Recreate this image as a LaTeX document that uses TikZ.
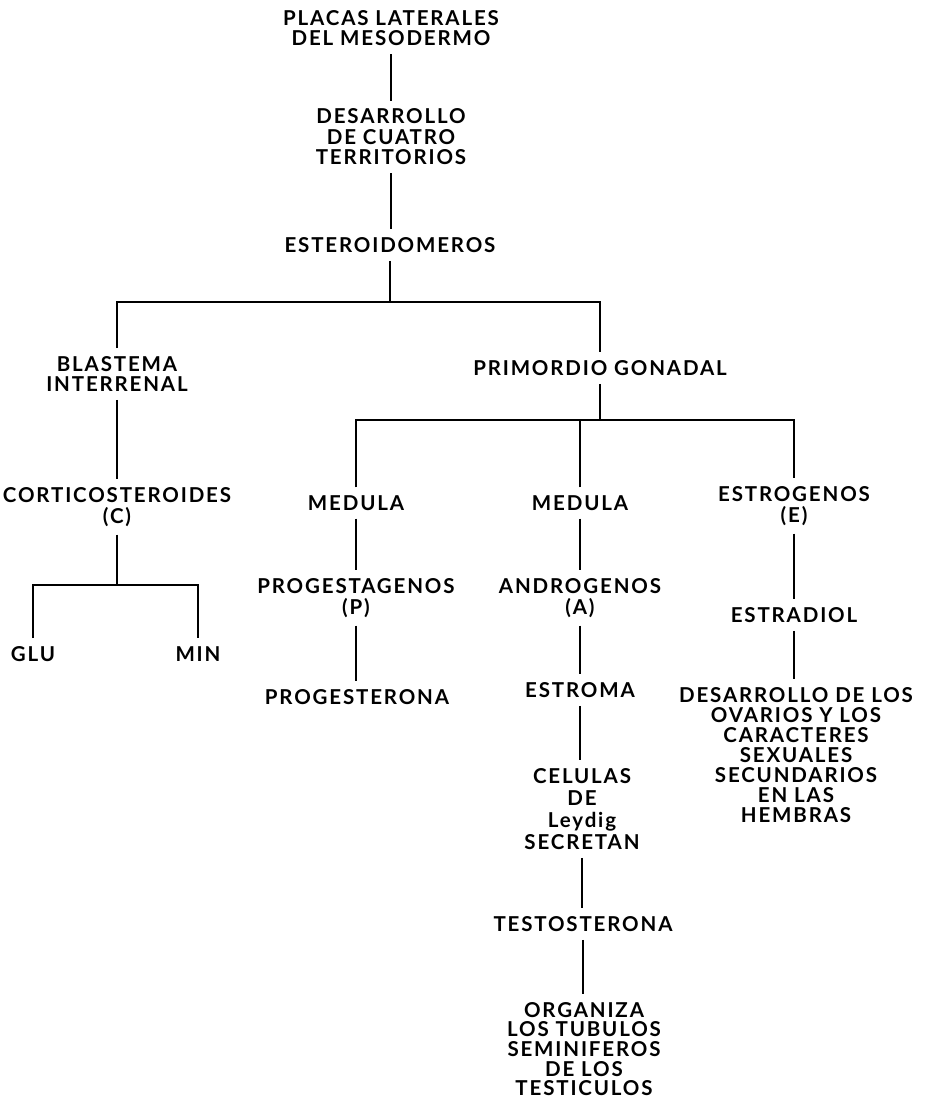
\documentclass[tikz,border=0pt]{standalone}
\usepackage{fontspec}
\setmainfont{Lato}[LetterSpace=9]
\begin{document}
\begin{tikzpicture}[x=1pt,y=-1pt,
  lbl/.style={font=\fontsize{20.5}{20.5}\selectfont\bfseries, align=center, inner xsep=2pt, inner ysep=8pt},
  conn/.style={draw=black, line width=1.1pt}]
\useasboundingbox (0,0) rectangle (931,1099);
% nodes
\node[lbl] (placas) at (391,28) {PLACAS LATERALES\\DEL MESODERMO};
\node[lbl] (desa) at (391,137) {DESARROLLO\\DE CUATRO\\TERRITORIOS};
\node[lbl] (este) at (390,245) {ESTEROIDOMEROS};
\node[lbl] (blast) at (117,374) {BLASTEMA\\INTERRENAL};
\node[lbl] (prim) at (600,368) {PRIMORDIO GONADAL};
\node[lbl] (cort) at (117,507) {CORTICOSTEROIDES\\(C)};
\node[lbl] (glu) at (33,654) {GLU};
\node[lbl] (min) at (198,654) {MIN};
\node[lbl] (med1) at (356,503) {MEDULA};
\node[lbl] (med2) at (580,503) {MEDULA};
\node[lbl] (estr) at (794,506) {ESTROGENOS\\(E)};
\node[lbl] (prog) at (356,598) {PROGESTAGENOS\\(P)};
\node[lbl] (progest) at (357,697) {PROGESTERONA};
\node[lbl] (andro) at (580,598) {ANDROGENOS\\(A)};
\node[lbl] (estroma) at (580,690) {ESTROMA};
\node[lbl, font=\fontsize{20.5}{22}\selectfont\bfseries] (cel) at (582,809) {CELULAS\\DE\\Leydig\\SECRETAN};
\node[lbl] (testo) at (583,924) {TESTOSTERONA};
\node[lbl, font=\fontsize{20.5}{19.6}\selectfont\bfseries] (org) at (584,1049) {ORGANIZA\\LOS TUBULOS\\SEMINIFEROS\\DE LOS\\TESTICULOS};
\node[lbl] (estrad) at (794,615) {ESTRADIOL};
\node[lbl, font=\fontsize{20.5}{20}\selectfont\bfseries] (desov) at (796,755) {DESARROLLO DE LOS\\OVARIOS Y LOS\\CARACTERES\\SEXUALES\\SECUNDARIOS\\EN LAS\\HEMBRAS};
% junctions
\coordinate (h1) at (392,302);
\coordinate (h2) at (600,420);
\coordinate (h3) at (117,585);
% connectors
\draw[conn] (placas.south) -- (placas.south |- desa.north);
\draw[conn] (desa.south) -- (desa.south |- este.north);
\draw[conn] (este.south) -- (este.south |- h1);
\draw[conn] (blast.north) |- (h1) -| (prim.north);
\draw[conn] (blast.south) -- (blast.south |- cort.north);
\draw[conn] (cort.south) -- (h3);
\draw[conn] (glu.north) |- (h3) -| (min.north);
\draw[conn] (prim.south) -- (h2);
\draw[conn] (med1.north) |- (h2) -| (estr.north);
\draw[conn] (med2.north) -- (med2.north |- h2);
\draw[conn] (med1.south) -- (med1.south |- prog.north);
\draw[conn] (prog.south) -- (prog.south |- progest.north);
\draw[conn] (med2.south) -- (med2.south |- andro.north);
\draw[conn] (andro.south) -- (andro.south |- estroma.north);
\draw[conn] (estroma.south) -- (estroma.south |- cel.north);
\draw[conn] (cel.south) -- (cel.south |- testo.north);
\draw[conn] (testo.south) -- (testo.south |- org.north);
\draw[conn] (estr.south) -- (estr.south |- estrad.north);
\draw[conn] (estrad.south) -- (estrad.south |- desov.north);
\end{tikzpicture}
\end{document}
